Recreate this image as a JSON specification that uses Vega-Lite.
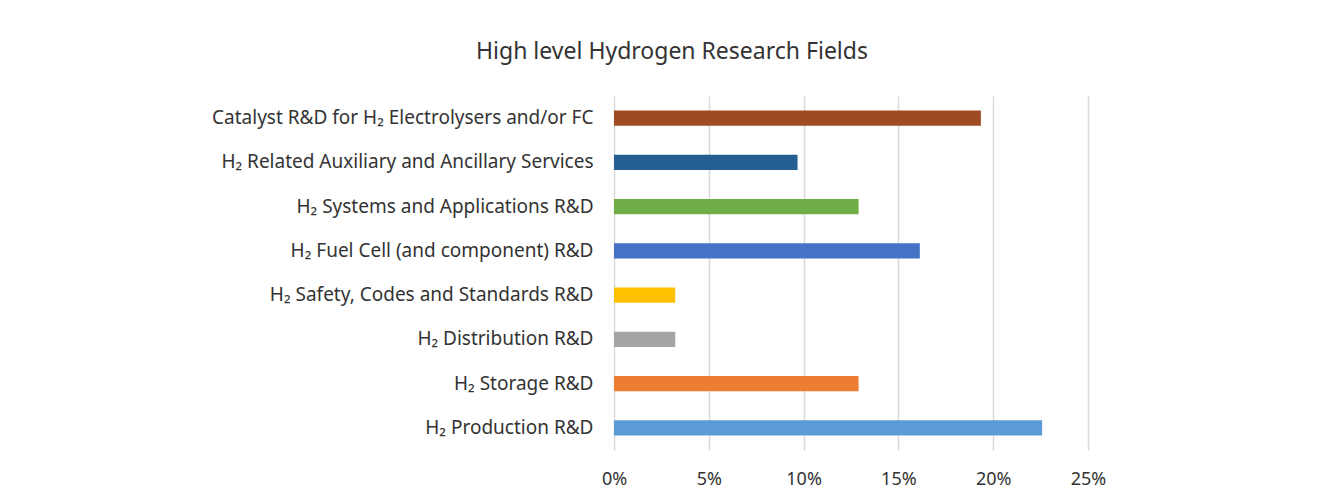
{
  "$schema": "https://vega.github.io/schema/vega-lite/v6.json",
  "autosize": {"type": "none"},
  "width": 474,
  "height": 354,
  "padding": {"left": 614, "top": 96, "right": 240, "bottom": 46},
  "background": "#ffffff",
  "title": {
    "text": "High level Hydrogen Research Fields",
    "font": "Noto Sans",
    "fontSize": 23,
    "fontWeight": "normal",
    "color": "#333333",
    "anchor": "middle",
    "baseline": "alphabetic",
    "offset": 14,
    "dx": -179
  },
  "data": {
    "values": [
      {"field": "Catalyst R&D for H₂ Electrolysers and/or FC", "share": 0.1935},
      {"field": "H₂ Related Auxiliary and Ancillary Services", "share": 0.0968},
      {"field": "H₂ Systems and Applications R&D", "share": 0.1290},
      {"field": "H₂ Fuel Cell (and component) R&D", "share": 0.1613},
      {"field": "H₂ Safety, Codes and Standards R&D", "share": 0.0323},
      {"field": "H₂ Distribution R&D", "share": 0.0323},
      {"field": "H₂ Storage R&D", "share": 0.1290},
      {"field": "H₂ Production R&D", "share": 0.2258}
    ]
  },
  "mark": {"type": "bar", "cornerRadius": 0},
  "encoding": {
    "y": {
      "field": "field",
      "type": "nominal",
      "sort": null,
      "title": null,
      "scale": {"paddingInner": 0.66, "paddingOuter": 0.33},
      "axis": {
        "domain": false,
        "ticks": false,
        "grid": false,
        "labelFont": "Noto Sans",
        "labelFontSize": 19,
        "labelColor": "#333333",
        "labelPadding": 21,
        "labelLimit": 700
      }
    },
    "x": {
      "field": "share",
      "type": "quantitative",
      "title": null,
      "scale": {"domain": [0, 0.25], "nice": false},
      "axis": {
        "values": [0, 0.05, 0.1, 0.15, 0.2, 0.25],
        "format": ".0%",
        "domain": false,
        "ticks": false,
        "grid": true,
        "gridColor": "#d9d9d9",
        "gridWidth": 1.5,
        "labelFlush": false,
        "labelFont": "Noto Sans",
        "labelFontSize": 18,
        "labelColor": "#333333",
        "labelPadding": 20
      }
    },
    "color": {
      "field": "field",
      "type": "nominal",
      "legend": null,
      "scale": {
        "domain": [
          "Catalyst R&D for H₂ Electrolysers and/or FC",
          "H₂ Related Auxiliary and Ancillary Services",
          "H₂ Systems and Applications R&D",
          "H₂ Fuel Cell (and component) R&D",
          "H₂ Safety, Codes and Standards R&D",
          "H₂ Distribution R&D",
          "H₂ Storage R&D",
          "H₂ Production R&D"
        ],
        "range": ["#9e4a23", "#255e91", "#70ad47", "#4472c4", "#ffc000", "#a5a5a5", "#ed7d31", "#5b9bd5"]
      }
    }
  },
  "config": {"view": {"stroke": null}}
}
